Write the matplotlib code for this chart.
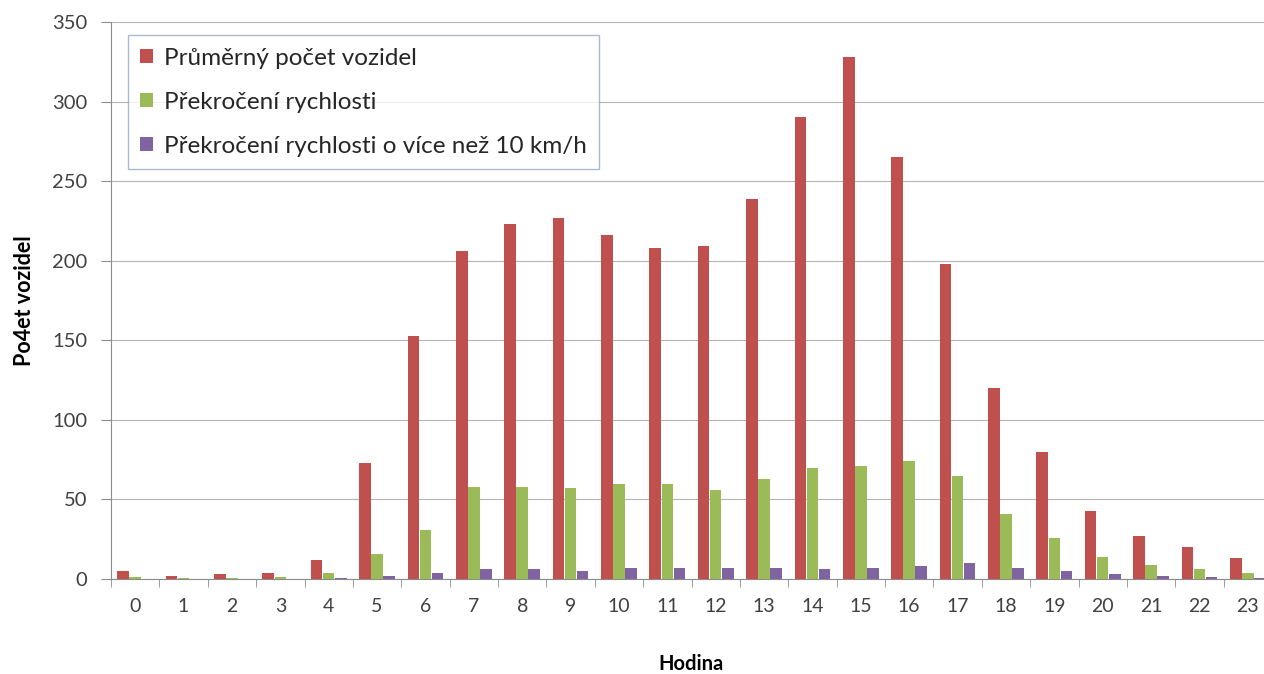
import numpy as np
import matplotlib.pyplot as plt

hours = list(range(24))
avg_vehicles = [5, 2, 3, 4, 12, 73, 153, 206, 223, 227, 216, 208, 209, 239,
                290, 328, 265, 198, 120, 80, 43, 27, 20, 13]
speeding = [1, 0.5, 0.5, 1, 4, 16, 31, 58, 58, 57, 60, 60, 56, 63,
            70, 71, 74, 65, 41, 26, 14, 9, 6, 4]
speeding_10 = [0.2, 0.1, 0.1, 0.2, 0.7, 2, 4, 6, 6, 5, 7, 7, 7, 7,
               6, 7, 8, 10, 7, 5, 3, 2, 1, 0.5]
series_names = ["Průměrný počet vozidel", "Překročení rychlosti",
                "Překročení rychlosti o více než 10 km/h"]
colors = ["#C0504D", "#9BBB59", "#8064A2"]

plt.rcParams['font.family'] = ['Lato', 'DejaVu Sans']

fig = plt.figure(figsize=(12.64, 6.74), dpi=100)
ax = fig.add_axes([111 / 1264, 95 / 674, 1161 / 1264, 557 / 674])

x = np.arange(len(hours))
w = 0.24
for i, (vals, name, c) in enumerate(zip([avg_vehicles, speeding, speeding_10], series_names, colors)):
    ax.bar(x + (i - 1) * 0.25, vals, width=w, color=c, label=name, zorder=3)

ax.set_xlim(-0.5, 23.5)
ax.set_ylim(0, 350)
ax.set_yticks(range(0, 351, 50))
ax.grid(axis='y', color='#B4B4B4', linewidth=0.8, zorder=0)

ax.set_xticks(x)
ax.set_xticklabels([str(h) for h in hours])
ax.set_xticks(np.arange(-0.5, 24, 1), minor=True)
ax.tick_params(axis='x', which='major', length=0, pad=14, labelsize=14, labelcolor='#404040')
ax.tick_params(axis='x', which='minor', length=6, color='#8C8C8C', direction='out')
ax.tick_params(axis='y', length=7, color='#8C8C8C', labelsize=14.5, labelcolor='#404040', pad=10)

for s in ['top', 'right']:
    ax.spines[s].set_visible(False)
ax.spines['left'].set_color('#8C8C8C')
ax.spines['bottom'].set_color('#8C8C8C')

ax.set_xlabel("Hodina", fontsize=14.5, fontweight='bold', labelpad=28)
ax.set_ylabel("Po4et vozidel", fontsize=15.5, fontweight='bold', labelpad=12)

leg = ax.legend(loc='upper left', bbox_to_anchor=(0.0145, 0.976), fontsize=17.5,
                frameon=True, fancybox=False, handlelength=0.55, handleheight=0.55,
                handletextpad=0.45, labelspacing=0.95, borderpad=0.5, borderaxespad=0)
leg.get_frame().set_edgecolor('#95A7C7')
leg.get_frame().set_linewidth(1.0)
for t in leg.get_texts():
    t.set_color('#262626')

fig.savefig("out.png", dpi=100)
